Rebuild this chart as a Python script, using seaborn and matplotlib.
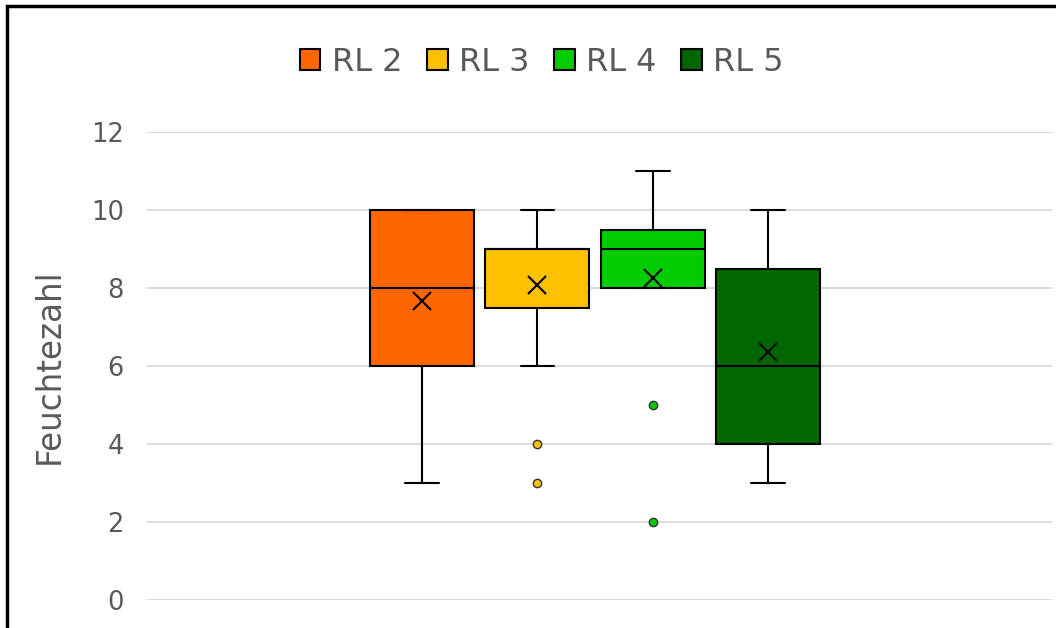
import numpy as np
import pandas as pd
import matplotlib
matplotlib.use("Agg")
import matplotlib.pyplot as plt
from matplotlib.patches import Rectangle
import seaborn as sns

# Feuchtezahl values per Reliktlage
rl2 = [3, 6, 6, 7, 8, 9, 10, 10, 10]
rl3 = [3, 4, 6, 7, 8, 9, 9, 9, 9, 9, 9, 9, 10, 10, 10]
rl4 = [2, 5, 8, 8, 8, 8, 8, 9, 9, 9, 9, 10, 10, 10, 11]
rl5 = [3, 4, 4, 4, 5, 6, 7, 8, 9, 10, 10]
groups = ["RL 2", "RL 3", "RL 4", "RL 5"]
colors = ["#FF6600", "#FFC000", "#00CC00", "#006600"]
y_ticks = [0, 2, 4, 6, 8, 10, 12]

grey = "#595959"


def build_frame():
    rows = []
    for name, vals in zip(groups, [rl2, rl3, rl4, rl5]):
        for v in vals:
            rows.append({"Gruppe": "alle", "RL": name, "Feuchtezahl": v})
    return pd.DataFrame(rows)


def main():
    df = build_frame()
    sns.set_style("white")
    plt.rcParams["font.family"] = ["DejaVu Sans"]

    fig = plt.figure(figsize=(10.56, 6.28), dpi=100)
    ax = fig.add_axes([0.139, 0.0446, 0.857, 0.745])

    sns.boxplot(
        data=df,
        x="Gruppe",
        y="Feuchtezahl",
        hue="RL",
        hue_order=groups,
        palette=colors,
        saturation=1,
        width=0.51,
        gap=0.1,
        linecolor="black",
        linewidth=1.5,
        showmeans=True,
        meanprops=dict(marker="x", markeredgecolor="black", markersize=13,
                       markeredgewidth=1.5),
        flierprops=dict(marker="o", markersize=6, markeredgecolor="#333333",
                        markeredgewidth=1),
        ax=ax,
    )
    for cont, col in zip(ax.containers, colors):
        # outliers take the fill colour of their box
        for f in cont.fliers:
            f.set_markerfacecolor(col)
        # shorter whisker caps, like Excel
        for cap in cont.caps:
            xs = np.asarray(cap.get_xdata(), dtype=float)
            mid = xs.mean()
            cap.set_xdata(mid + (xs - mid) * 0.65)

    ax.set_xlim(-0.4954, 0.5046)
    ax.set_ylim(0, 12)
    ax.set_yticks(y_ticks)
    ax.set_xticks([])
    ax.set_xlabel("")
    ax.set_ylabel("Feuchtezahl", fontsize=23.5, color=grey, labelpad=18)
    ax.tick_params(axis="y", length=0, pad=16.5, labelsize=18.5, labelcolor=grey)
    ax.grid(axis="y", color="#D9D9D9", linewidth=1.3)
    ax.set_axisbelow(True)
    sns.despine(ax=ax, left=True, bottom=True)

    handles, labels = ax.get_legend_handles_labels()
    ax.get_legend().remove()
    fig.legend(handles, labels, loc="center", bbox_to_anchor=(0.513, 0.901),
               ncol=4, frameon=False, fontsize=23, labelcolor=grey,
               handlelength=0.65, handleheight=0.65, handletextpad=0.37,
               columnspacing=0.75)

    # frame round the chart area, cut off right and bottom
    fig.patches.append(Rectangle((7 / 1056, -0.1), 1.2, 1.1 - 6 / 628,
                                 transform=fig.transFigure, fill=False,
                                 edgecolor="black", linewidth=2.5))

    fig.savefig("out.png", dpi=100)


if __name__ == "__main__":
    main()
